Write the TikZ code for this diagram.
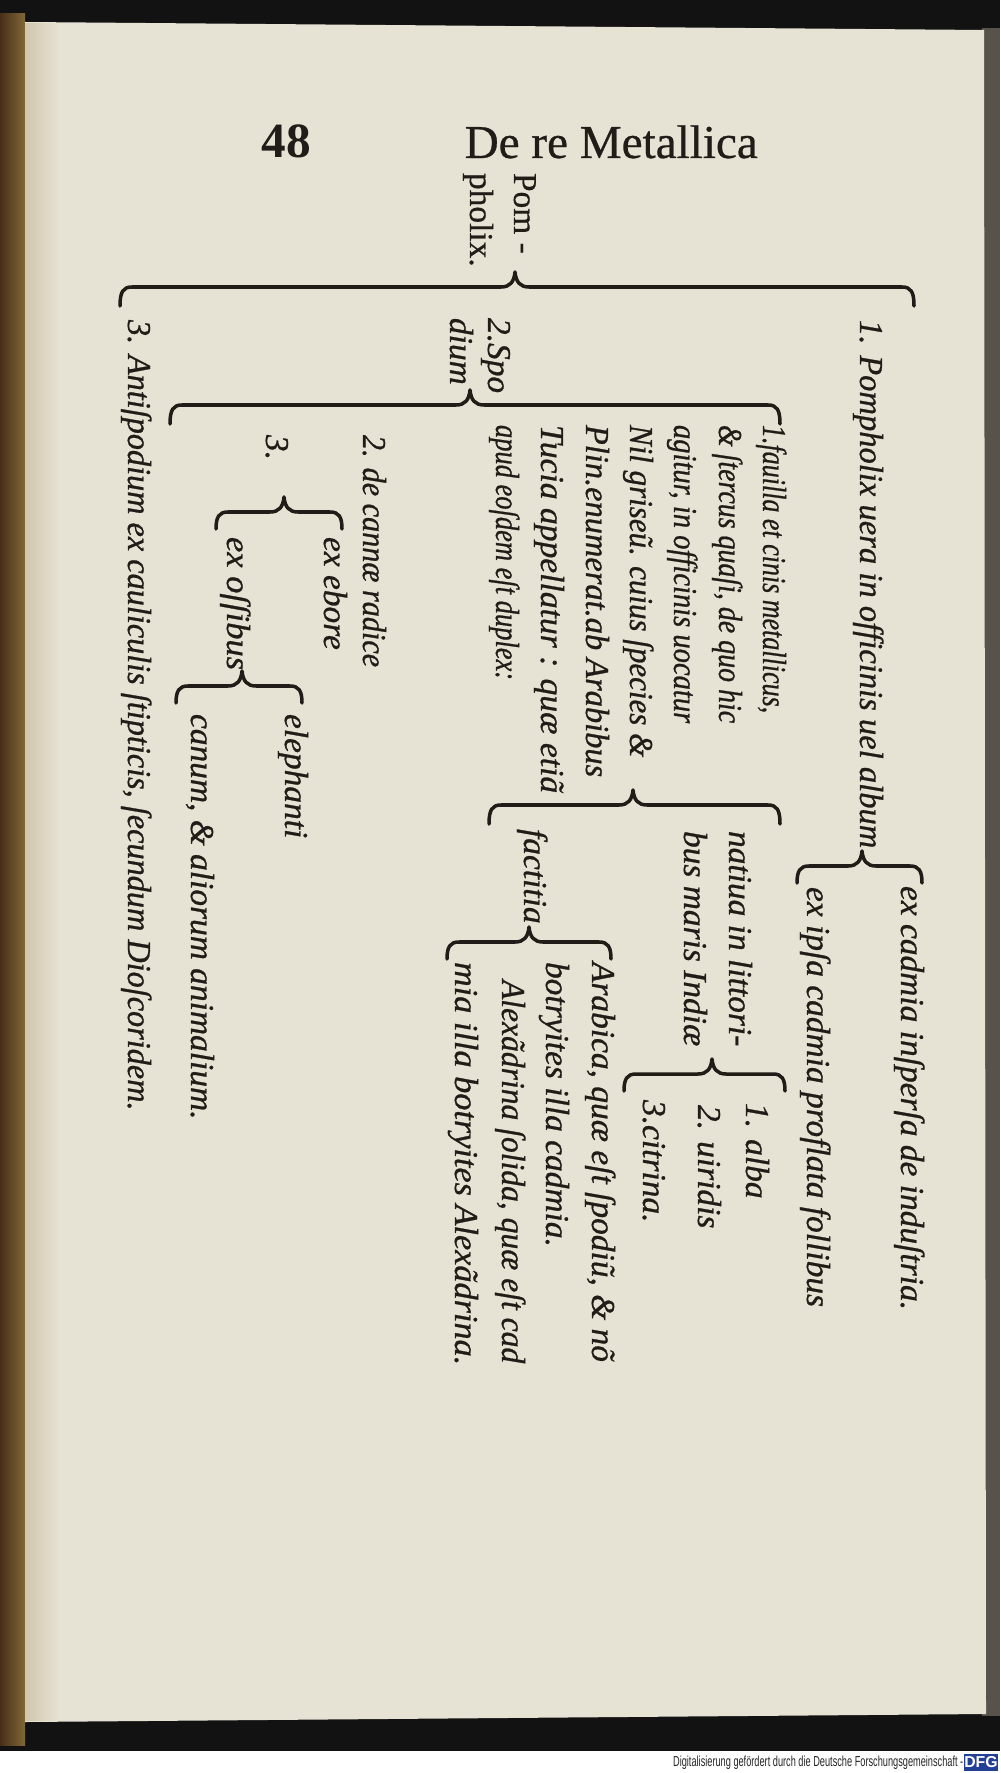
\documentclass[tikz,border=0pt]{standalone}
\usepackage{fontspec}
\usepackage{graphicx}
\setmainfont{Liberation Serif}
\setsansfont{Liberation Sans}
\newfontface\oldital{Liberation Serif Italic}[FakeBold=0.8]
\newfontface\oldroman{Liberation Serif}[FakeBold=0.6]
\newfontface\oldbold{Liberation Serif Bold}
\usetikzlibrary{calc}
\definecolor{paper}{RGB}{231,227,212}
\definecolor{papershade}{RGB}{208,198,172}
\definecolor{ink}{RGB}{34,28,24}
\definecolor{spine}{RGB}{128,104,54}
\definecolor{spinedark}{RGB}{72,46,26}
\definecolor{edgegray}{RGB}{88,82,76}
\definecolor{dfgblue}{RGB}{36,64,150}
\tikzset{
  txt/.style={rotate=-90, anchor=base west, inner sep=0pt, outer sep=0pt, text=ink,
              font=\oldital\fontsize{9.5}{11}\selectfont},
  rtxt/.style={txt, font=\oldroman\fontsize{9.5}{11}\selectfont},
  bracestyle/.style={draw=ink, line width=1pt, line cap=round, line join=round},
}
% stretch a line of text to a given length along its own direction
\newcommand\fitto[2]{\resizebox{#1}{\height}{#2}}
% #1 name, #2 left x, #3 peak x, #4 right x, #5 line y, #6 hook length
\newcommand\PBrace[6]{%
  \coordinate (#1-l) at (#2,#5);
  \coordinate (#1-p) at (#3,#5);
  \coordinate (#1-r) at (#4,#5);
  \draw[bracestyle]
    ($(#1-l)+(0,#6)$) .. controls ($(#1-l)+(0,5)$) and ($(#1-l)+(3,0)$) .. ($(#1-l)+(12,0)$)
    -- ($(#1-p)+(-14,0)$) .. controls ($(#1-p)+(-5,0)$) and ($(#1-p)+(-1,-5)$) .. ($(#1-p)+(0,-15)$)
    .. controls ($(#1-p)+(1,-5)$) and ($(#1-p)+(5,0)$) .. ($(#1-p)+(14,0)$)
    -- ($(#1-r)+(-12,0)$) .. controls ($(#1-r)+(-3,0)$) and ($(#1-r)+(0,5)$) .. ($(#1-r)+(0,#6)$);
}
\begin{document}
\begin{tikzpicture}[x=0.01cm, y=-0.01cm]
\useasboundingbox (0,0) rectangle (1000,1773);
% ---- page and scan borders
\fill[black!93] (0,0) rectangle (1000,1751);
\fill[white] (0,1751) rectangle (1000,1773);
\shade[left color=spinedark, right color=spine] (0,14) rectangle (25,1745);
\fill[edgegray] (982,28) rectangle (1000,1716);
\fill[paper] (25,22) -- (984,30) -- (986,1714) -- (25,1722) -- cycle;
\shade[left color=papershade, right color=paper] (25,24) rectangle (60,1720);

% ---- header
\node[font=\oldbold\fontsize{14}{16}\selectfont, text=ink, anchor=base, inner sep=0pt] (pagenum) at (286,158) {48};
\node[font=\oldroman\fontsize{13.4}{16}\selectfont, text=ink, anchor=base west, inner sep=0pt] (title) at (464,158) {De re Metallica};

% ---- root label
\node[rtxt] (pomA) at (514,173) {Pom -};
\node[rtxt] (pomB) at (470,173) {pholix.};

% ---- main brace
\PBrace{main}{120}{515}{914}{287}{19}

% ---- item 1
\node[txt] (item1) at (860,320) {\fitto{5.28cm}{1. Pompholix uera in officinis uel album}};
\PBrace{bOne}{797}{862}{922}{866}{17}
\node[txt] (inspersa) at (901,886) {ex cadmia inſperſa de induſtria.};
\node[txt] (proflata) at (807,887) {ex ipſa cadmia proflata follibus};

% ---- item 2
\node[txt] (spoA) at (488,318) {2.Spo};
\node[txt] (spoB) at (450,318) {dium};
\PBrace{bSpo}{170}{470}{780}{405}{19}

\node[txt] (favA) at (763,425) {\fitto{2.88cm}{1.fauilla et cinis metallicus,}};
\node[txt] (favB) at (719,425) {\fitto{2.98cm}{\& ſtercus quaſi, de quo hic}};
\node[txt] (favC) at (674,425) {\fitto{2.98cm}{agitur, in officinis uocatur}};
\node[txt] (favD) at (630,425) {\fitto{3.32cm}{Nil griseũ. cuius ſpecies \&}};
\node[txt] (favE) at (586,425) {\fitto{3.52cm}{Plin.enumerat.ab Arabibus}};
\node[txt] (favF) at (541,425) {\fitto{3.68cm}{Tucia appellatur : quæ etiã}};
\node[txt] (favG) at (496,425) {\fitto{2.55cm}{apud eoſdem eſt duplex:}};
\PBrace{bFav}{489}{633}{780}{805}{19}

\node[txt] (natA) at (729,831) {natiua in littori-};
\node[txt] (natB) at (684,831) {bus maris Indiæ};
\PBrace{bCol}{624}{712}{785}{1074}{17}
\node[txt] (alba) at (746,1103) {1. alba};
\node[txt] (uiridis) at (698,1105) {2. uiridis};
\node[txt] (citrina) at (643,1100) {3.citrina.};

\node[txt] (factitia) at (524,829) {factitia};
\PBrace{bFac}{447}{529}{611}{942}{17}
\node[txt] (arabA) at (592,962) {Arabica, quæ eſt ſpodiũ, \& nõ};
\node[txt] (arabB) at (546,962) {botryites illa cadmia.};
\node[txt] (arabC) at (502,980) {\fitto{3.83cm}{Alexãdrina ſolida, quæ eſt cad}};
\node[txt] (arabD) at (455,962) {\fitto{4.03cm}{mia illa botryites Alexãdrina.}};

\node[txt] (canna) at (363,435) {\fitto{2.32cm}{2. de cannæ radice}};
\node[txt] (three) at (266,435) {3.};
\PBrace{bThree}{216}{284}{342}{512}{17}
\node[txt] (ebore) at (324,537) {ex ebore};
\node[txt] (ossibus) at (227,537) {\fitto{1.33cm}{ex oſſibus}};
\PBrace{bOss}{176}{242}{302}{686}{17}
\node[txt] (elephanti) at (285,714) {elephanti};
\node[txt] (canum) at (191,714) {canum, \& aliorum animalium.};

% ---- item 3
\node[txt] (item3) at (128,320) {\fitto{7.90cm}{3. Antiſpodium ex cauliculis ſtipticis, ſecundum Dioſcoridem.}};

% ---- footer
\node[anchor=base east, inner sep=0pt, text=black!85] (footer) at (964,1766)
  {\resizebox{2.9cm}{1.05mm}{\sffamily Digitalisierung gefördert durch die Deutsche Forschungsgemeinschaft -}};
\node[fill=dfgblue, text=white, inner sep=0pt, minimum width=0.27cm, minimum height=0.17cm,
      font=\sffamily\bfseries\fontsize{4.5}{5}\selectfont] (dfg) at (981,1762) {DFG};
\end{tikzpicture}
\end{document}
